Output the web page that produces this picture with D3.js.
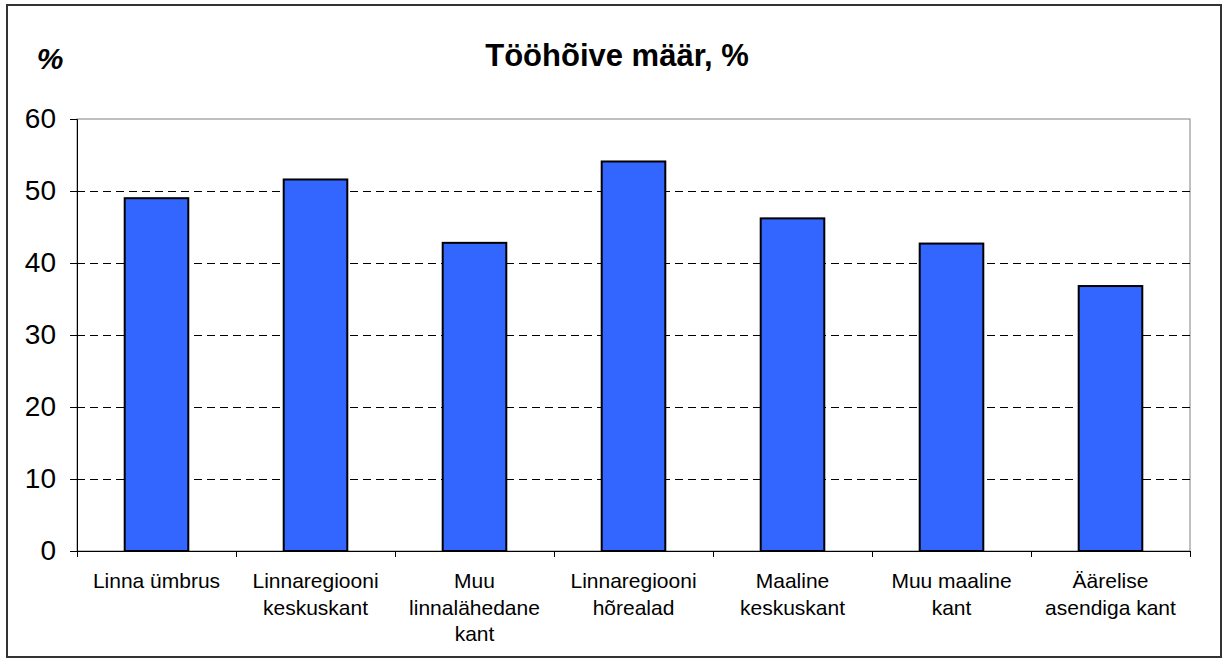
<!DOCTYPE html>
<html>
<head>
<meta charset="utf-8">
<script src="https://cdn.jsdelivr.net/npm/d3@7"></script>
<style>
  body { margin: 0; background: #fff; }
  svg { display: block; font-family: "Liberation Sans", Arial, sans-serif; }
</style>
</head>
<body>
<svg id="chart"></svg>
<script>
// data
var categories = [
  ["Linna ümbrus"],
  ["Linnaregiooni", "keskuskant"],
  ["Muu", "linnalähedane", "kant"],
  ["Linnaregiooni", "hõrealad"],
  ["Maaline", "keskuskant"],
  ["Muu maaline", "kant"],
  ["Äärelise", "asendiga kant"]
];
var values = [49.0, 51.6, 42.8, 54.1, 46.2, 42.7, 36.8];
var yTicks = [0, 10, 20, 30, 40, 50, 60];
var chartTitle = "Tööhõive määr, %";
var yUnit = "%";

var width = 1223, height = 660;
var margin = {top: 119, right: 33, bottom: 109, left: 77};

var svg = d3.select("#chart")
            .attr("width", width)
            .attr("height", height);

// outer frame
svg.append("rect")
   .attr("x", 7).attr("y", 5)
   .attr("width", 1214).attr("height", 652)
   .attr("fill", "none")
   .attr("stroke", "#333")
   .attr("stroke-width", 2);

var x = d3.scaleBand()
          .domain(d3.range(categories.length))
          .range([margin.left, width - margin.right])
          .paddingInner(0.6)
          .paddingOuter(0.3);

var y = d3.scaleLinear()
          .domain([0, 60])
          .range([height - margin.bottom, margin.top]);

// plot area border (top/right grey)
svg.append("rect")
   .attr("x", margin.left).attr("y", y(60))
   .attr("width", width - margin.right - margin.left)
   .attr("height", y(0) - y(60))
   .attr("fill", "none")
   .attr("stroke", "#808080")
   .attr("stroke-width", 1);

// dashed gridlines
svg.append("g")
   .selectAll("line")
   .data(yTicks.filter(d => d > 0 && d < 60))
   .enter()
   .append("line")
   .attr("x1", margin.left)
   .attr("x2", width - margin.right)
   .attr("y1", d => Math.round(y(d)) + 0.5)
   .attr("y2", d => Math.round(y(d)) + 0.5)
   .attr("stroke", "#000")
   .attr("stroke-dasharray", "8,5");

// bars
svg.append("g")
   .selectAll("rect")
   .data(values)
   .enter()
   .append("rect")
   .attr("x", (d, i) => x(i))
   .attr("y", d => y(d))
   .attr("width", x.bandwidth())
   .attr("height", d => y(0) - y(d))
   .attr("fill", "#3366ff")
   .attr("stroke", "#000")
   .attr("stroke-width", 2);

// y axis
var yAxis = svg.append("g")
   .attr("transform", "translate(" + margin.left + ",0)")
   .call(d3.axisLeft(y).tickValues(yTicks).tickSize(7).tickPadding(14));
yAxis.select(".domain").attr("stroke", "#000");
yAxis.selectAll(".tick line").attr("stroke", "#000");
yAxis.selectAll("text")
     .attr("font-size", "28px")
     .attr("font-family", "Liberation Sans, Arial, sans-serif")
     .attr("fill", "#000");

// x axis: ticks at category boundaries
var bounds = d3.range(categories.length + 1).map(i => margin.left + i * x.step());
var xAxis = svg.append("g");
xAxis.append("line")
     .attr("x1", margin.left).attr("x2", width - margin.right)
     .attr("y1", y(0) + 0.5).attr("y2", y(0) + 0.5)
     .attr("stroke", "#000");
xAxis.selectAll(".xt")
     .data(bounds)
     .enter()
     .append("line")
     .attr("x1", d => Math.round(d) + 0.5).attr("x2", d => Math.round(d) + 0.5)
     .attr("y1", y(0)).attr("y2", y(0) + 6)
     .attr("stroke", "#000");

var labels = svg.append("g")
   .selectAll("text")
   .data(categories)
   .enter()
   .append("text")
   .attr("text-anchor", "middle")
   .attr("font-size", "21px")
   .attr("fill", "#000")
   .attr("transform", (d, i) => "translate(" + (x(i) + x.bandwidth() / 2) + ",588)");
labels.selectAll("tspan")
   .data(d => d)
   .enter()
   .append("tspan")
   .attr("x", 0)
   .attr("y", (d, i) => i * 26.5)
   .text(d => d);

// title and unit
svg.append("text")
   .attr("x", 617)
   .attr("y", 66)
   .attr("text-anchor", "middle")
   .attr("font-size", "31px")
   .attr("font-weight", "bold")
   .text(chartTitle);

svg.append("text")
   .attr("x", 50)
   .attr("y", 69)
   .attr("text-anchor", "middle")
   .attr("font-size", "30px")
   .attr("font-weight", "bold")
   .attr("font-style", "italic")
   .text(yUnit);
</script>
</body>
</html>
